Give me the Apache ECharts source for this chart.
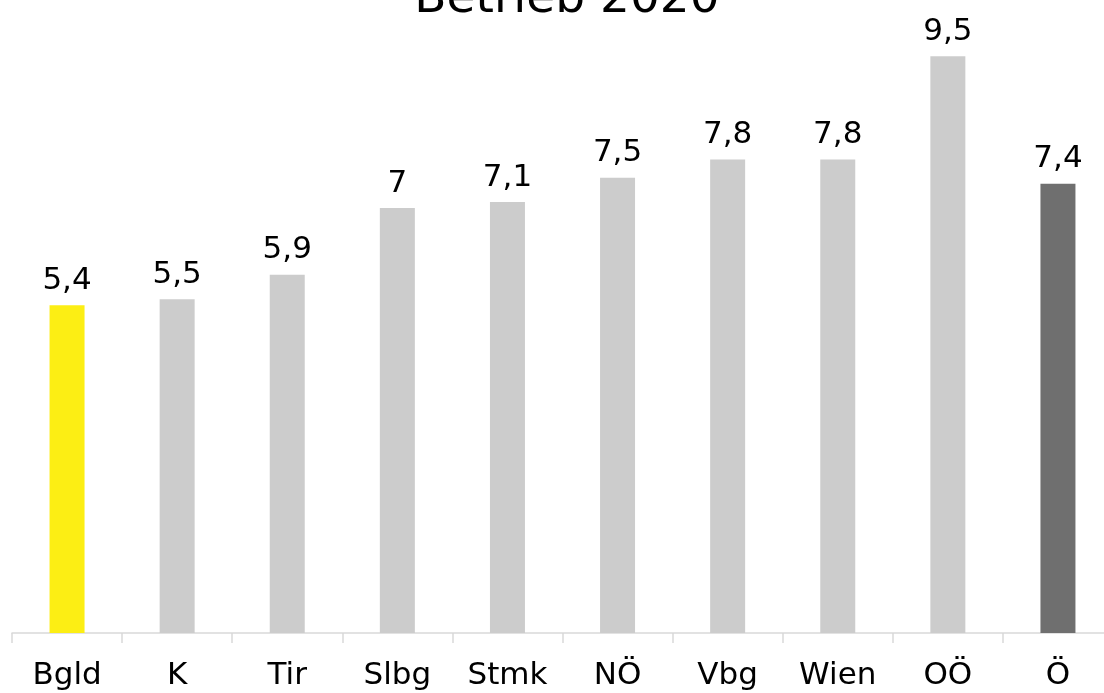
<!DOCTYPE html>
<html>
<head>
<meta charset="utf-8">
<script src="https://cdn.jsdelivr.net/npm/echarts@6/dist/echarts.min.js"></script>
<style>
  html, body { margin: 0; padding: 0; background: #fff; overflow: hidden; }
  /* Achse reicht im Original etwas über den rechten Rand hinaus */
  #chart { width: 1113px; height: 693px; }
</style>
</head>
<body>
<div id="chart"></div>
<script>
// Daten
const titel = "Betrieb 2020";
const laender = ["Bgld", "K", "Tir", "Slbg", "Stmk", "NÖ", "Vbg", "Wien", "OÖ", "Ö"];
const werte = [5.4, 5.5, 5.9, 7, 7.1, 7.5, 7.8, 7.8, 9.5, 7.4];
const farben = ["#FCEE14", "#CCCCCC", "#CCCCCC", "#CCCCCC", "#CCCCCC", "#CCCCCC", "#CCCCCC", "#CCCCCC", "#CCCCCC", "#6F6F6F"];

const schrift = "DejaVu Sans";

let myChart = echarts.init(document.getElementById("chart"));

let option = {
  animation: false,
  title: {
    text: titel,
    left: 562,
    textAlign: "center",
    top: -29,
    textStyle: { fontFamily: schrift, fontSize: 47, fontWeight: "normal", color: "#000" }
  },
  grid: { left: 12, right: 0, top: 26, bottom: 60, containLabel: false },
  xAxis: {
    type: "category",
    data: laender,
    axisLine: { lineStyle: { color: "#D9D9D9", width: 1.5 } },
    axisTick: { show: true, length: 10, lineStyle: { color: "#D9D9D9", width: 1.5 } },
    axisLabel: { fontFamily: schrift, fontSize: 31, color: "#000", margin: 27 }
  },
  yAxis: {
    type: "value",
    min: 0,
    max: 10,
    show: false,
    splitLine: { show: false }
  },
  series: [
    {
      type: "bar",
      barWidth: 35,
      data: werte.map((v, i) => ({ value: v, itemStyle: { color: farben[i] } })),
      label: {
        show: true,
        position: "top",
        distance: 9,
        fontFamily: schrift,
        fontSize: 31,
        color: "#000",
        formatter: p => String(p.value).replace(".", ",")
      }
    }
  ]
};

myChart.setOption(option);
</script>
</body>
</html>
